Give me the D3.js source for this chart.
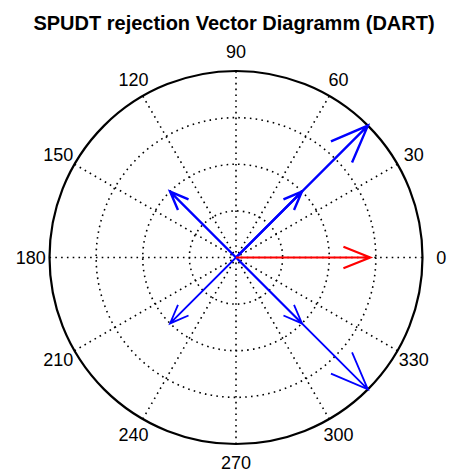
<!DOCTYPE html>
<html>
<head>
<meta charset="utf-8">
<script src="https://cdn.jsdelivr.net/npm/d3@7"></script>
<style>
  html, body { margin: 0; padding: 0; background: #fff; }
  svg { display: block; }
  text { font-family: "Liberation Sans", Arial, sans-serif; fill: #000; }
</style>
</head>
<body>
<svg id="chart" width="449" height="472"></svg>
<script>
// Vector data (angle in degrees, magnitude relative to the outer ring)
const redAngles = [0];
const redMagnitudes = [0.72];
const blueAngles = [45, 45, 135, 225, 315, 315];
const blueMagnitudes = [1.0, 0.5, 0.5, 0.5, 0.5, 1.0];
const blueWidths = [2.4, 2.4, 2.4, 1.8, 1.8, 1.8];

// Grid definition
const ringValues = [0.25, 0.5, 0.75, 1.0];
const spokeAngles = [0, 30, 60, 90, 120, 150, 180, 210, 240, 270, 300, 330];
const angleLabels = ["0", "30", "60", "90", "120", "150", "180", "210", "240", "270", "300", "330"];

const titleText = "SPUDT rejection Vector Diagramm (DART)";

const svg = d3.select("#chart");
const cx = 236, cy = 257.5, R = 186.5;

const r = d3.scaleLinear().domain([0, 1]).range([0, R]);
const toRad = d3.scaleLinear().domain([0, 360]).range([0, 2 * Math.PI]);
const px = (deg, v) => cx + r(v) * Math.cos(toRad(deg));
const py = (deg, v) => cy - r(v) * Math.sin(toRad(deg));

const g = svg.append("g");

// dotted spokes through the centre
g.selectAll("line.spoke")
  .data(spokeAngles.filter(a => a < 180))
  .join("line")
  .attr("class", "spoke")
  .attr("x1", a => px(a + 180, 1)).attr("y1", a => py(a + 180, 1))
  .attr("x2", a => px(a, 1)).attr("y2", a => py(a, 1))
  .attr("stroke", "#000").attr("stroke-width", 1.6)
  .attr("stroke-dasharray", "1.6 4.2");

// dotted inner rings
g.selectAll("circle.ring")
  .data(ringValues.filter(v => v < 1))
  .join("circle")
  .attr("class", "ring")
  .attr("cx", cx).attr("cy", cy).attr("r", v => r(v))
  .attr("fill", "none")
  .attr("stroke", "#000").attr("stroke-width", 1.6)
  .attr("stroke-dasharray", "1.6 4.2");

// solid outer ring
g.append("circle")
  .attr("cx", cx).attr("cy", cy).attr("r", r(1))
  .attr("fill", "none").attr("stroke", "#000").attr("stroke-width", 2.2);

// angle labels
g.selectAll("text.angle")
  .data(spokeAngles)
  .join("text")
  .attr("class", "angle")
  .attr("x", (a) => px(a, 1.1))
  .attr("y", (a) => py(a, 1.1))
  .attr("text-anchor", "middle")
  .attr("dominant-baseline", "central")
  .attr("font-size", 18)
  .text((a, i) => angleLabels[i]);

// compass arrow: shaft plus two barbs, head = 20% of length, half-width 8%
function arrowPath(deg, mag) {
  const L = r(mag), t = toRad(deg);
  const pts = [[0, 0], [1, 0], [0.8, 0.08], [1, 0], [0.8, -0.08]].map(([u, v]) => {
    const x = u * L, y = v * L;
    return [cx + x * Math.cos(t) - y * Math.sin(t), cy - (x * Math.sin(t) + y * Math.cos(t))];
  });
  return d3.line()(pts);
}

const blueData = blueAngles.map((a, i) => ({ a, m: blueMagnitudes[i], w: blueWidths[i] }));
g.selectAll("path.blue")
  .data(blueData)
  .join("path")
  .attr("class", "blue")
  .attr("d", d => arrowPath(d.a, d.m))
  .attr("fill", "none").attr("stroke", "#0000ff")
  .attr("stroke-width", d => d.w)
  .attr("stroke-linejoin", "miter");

const redData = redAngles.map((a, i) => ({ a, m: redMagnitudes[i] }));
g.selectAll("path.red")
  .data(redData)
  .join("path")
  .attr("class", "red")
  .attr("d", d => arrowPath(d.a, d.m))
  .attr("fill", "none").attr("stroke", "#ff0000")
  .attr("stroke-width", 2.2);

// title
svg.append("text")
  .attr("x", 234).attr("y", 29.5)
  .attr("text-anchor", "middle")
  .attr("font-size", 20).attr("font-weight", "bold")
  .text(titleText);
</script>
</body>
</html>
